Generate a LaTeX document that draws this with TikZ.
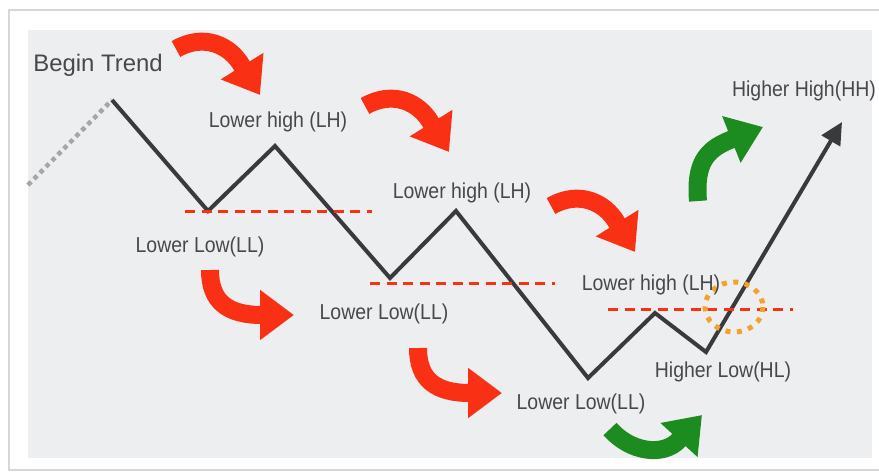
\documentclass[tikz,border=0pt]{standalone}
\usepackage{fontspec}
\setmainfont{Liberation Sans}
\newfontfamily\lblfont[FakeStretch=0.9]{Liberation Sans}
\usetikzlibrary{arrows.meta}
\definecolor{panelgray}{RGB}{237,238,240}
\definecolor{framegray}{RGB}{215,215,217}
\definecolor{downred}{RGB}{250,48,20}
\definecolor{upgreen}{RGB}{28,140,32}
\definecolor{pathgray}{RGB}{58,58,60}
\definecolor{txtgray}{RGB}{72,72,74}
\definecolor{ringorange}{RGB}{244,162,44}

\begin{document}
\begin{tikzpicture}[x=0.2mm, y=-0.2mm, >=Latex,
  lbl/.style={font=\lblfont\fontsize{12.3}{14}\selectfont, text=txtgray,
              inner sep=0pt, anchor=base},
  zig/.style={draw=pathgray, line width=0.8mm},
  level/.style={draw=downred, line width=0.6mm, dash pattern=on 2mm off 1.3mm},
  fat/.style={line width=3.6mm, -{Triangle[length=6.8mm,width=9.6mm]}},
  redarr/.style={fat, draw=downred},
  greenarr/.style={fat, draw=upgreen}]

\useasboundingbox (0,0) rectangle (879,472);
\fill[white] (0,0) rectangle (879,472);
\draw[framegray, line width=0.3mm] (9,10) rectangle (885,470);
\fill[panelgray] (28,30) rectangle (872,458);

% turning points of the price path
\coordinate (s)  at (28,185);
\coordinate (p0) at (112,100);
\coordinate (l1) at (208,211);
\coordinate (h1) at (275,146);
\coordinate (l2) at (390,278);
\coordinate (h2) at (456,211);
\coordinate (l3) at (588,378);
\coordinate (h3) at (655,313);
\coordinate (l4) at (706,352);
\coordinate (top) at (842,122);

\draw[draw=gray!70, line width=0.9mm, dash pattern=on 0.9mm off 0.8mm] (s) -- (p0);
\draw[zig, -{Triangle[length=4.4mm,width=4.2mm]}]
  (p0) -- (l1) -- (h1) -- (l2) -- (h2) -- (l3) -- (h3) -- (l4) -- (top);

% levels that get broken (or not)
\draw[level] (185,211) -- (372,211);
\draw[level] (370,283) -- (555,283);
\draw[level] (608,309) -- (793,309);
\draw[draw=ringorange, line width=1mm, dash pattern=on 1mm off 1.3mm]
  (734,307) ellipse [x radius=29, y radius=25];

% red arrows over the highs, then over the lows
\foreach \dx/\dy in {0/0,189/57,375/157}
  \draw[redarr, shift={(\dx,\dy)}]
    (176,49) .. controls (204,33) and (230,45) .. (242,66) -- (260,95);
\foreach \dx/\dy in {0/0,208/78}
  \draw[redarr, shift={(\dx,\dy)}]
    (210,270) .. controls (210,302) and (228,315) .. (262,315) -- (294,315);

% the turn
\draw[greenarr] (610,429) .. controls (630,452) and (663,457) .. (679,440) -- (702,415);
\draw[greenarr] (698,201) .. controls (695,165) and (705,150) .. (730,140) -- (763,127);

\node[font=\fontsize{13.6}{16}\selectfont, text=txtgray, inner sep=0pt,
      anchor=base west] (begin) at (33,71) {Begin Trend};
\node[lbl] (lh1) at (278,127) {Lower high (LH)};
\node[lbl] (lh2) at (462,198) {Lower high (LH)};
\node[lbl] (lh3) at (651,290) {Lower high (LH)};
\node[lbl] (ll1) at (200,252) {Lower Low(LL)};
\node[lbl] (ll2) at (384,319) {Lower Low(LL)};
\node[lbl] (ll3) at (581,409) {Lower Low(LL)};
\node[lbl] (hl)  at (723,377) {Higher Low(HL)};
\node[lbl] (hh)  at (804,96)  {Higher High(HH)};
\end{tikzpicture}
\end{document}
